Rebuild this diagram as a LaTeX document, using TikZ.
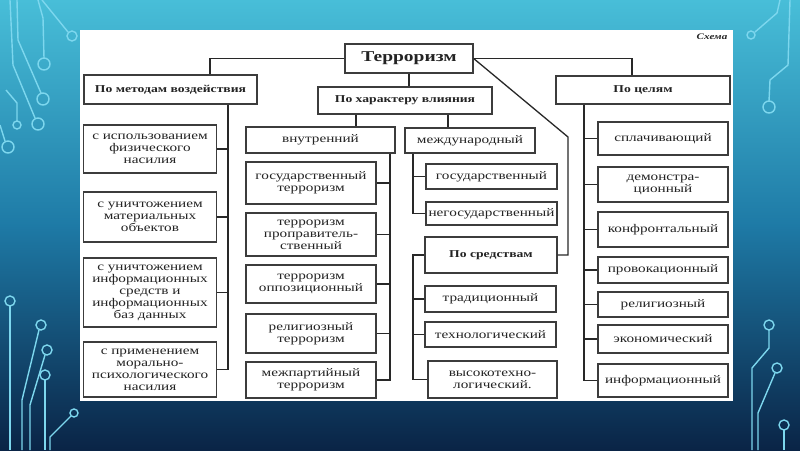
\documentclass[tikz,border=0pt]{standalone}
\usepackage{fontspec}
\setmainfont{Liberation Serif}[FakeStretch=1.3]
\definecolor{bgTop}{RGB}{72,190,216}
\definecolor{bgMid}{RGB}{30,122,166}
\definecolor{bgBot}{RGB}{10,36,70}
\definecolor{circc}{RGB}{125,215,238}
\definecolor{boxc}{RGB}{60,60,60}
\definecolor{linec}{RGB}{40,40,40}
\definecolor{txtc}{RGB}{35,35,35}
\newcommand\fsn{\fontsize{11.7}{12}\selectfont}
\newcommand\fsb{\fontsize{10.5}{12}\selectfont\bfseries}
\newcommand\fst{\fontsize{15}{16}\selectfont\bfseries}
\begin{document}
\begin{tikzpicture}[x=1pt,y=-1pt,
  box/.style={draw=boxc, line width=1.3pt, fill=white, text=txtc, align=center, inner sep=1pt, font=\fsn},
  hbox/.style={box, font=\fsb},
  conn/.style={draw=linec, line width=1.3pt},
  circ/.style={draw=circc, line width=1.4pt}]
\useasboundingbox (0,0) rectangle (800,450);
% background
\shade[top color=bgTop, bottom color=bgMid] (0,0) rectangle (800,226);
\shade[top color=bgMid, bottom color=bgBot] (0,225) rectangle (800,450);
% circuit decorations
\draw[circ] (38,0) -- (43,18) -- (44,58);
\draw[circ] (44,64) circle (6);
\draw[circ] (42,0) -- (68,32);
\draw[circ] (72,36) circle (5);
\draw[circ] (17,0) -- (18,40) -- (41,93);
\draw[circ] (43,99) circle (6);
\draw[circ] (10,0) -- (13,65) -- (35,118);
\draw[circ] (38,124) circle (6);
\draw[circ] (6,90) -- (17,103) -- (17,121);
\draw[circ] (17,125) circle (4);
\draw[circ] (0,125) -- (5,141);
\draw[circ] (8,147) circle (6);
\draw[circ] (10,306) -- (10,450);
\draw[circ] (10,301) circle (5);
\draw[circ] (39,330) -- (22,400) -- (22,450);
\draw[circ] (41,325) circle (5);
\draw[circ] (45,355) -- (30,405) -- (30,450);
\draw[circ] (47,350) circle (5);
\draw[circ] (45,380) -- (45,450);
\draw[circ] (45,375) circle (5);
\draw[circ] (71,416) -- (50,437) -- (50,450);
\draw[circ] (74,413) circle (4);
\draw[circ] (780,0) -- (777,13) -- (755,32);
\draw[circ] (751,35) circle (4);
\draw[circ] (790,0) -- (788,65) -- (770,80) -- (769,101);
\draw[circ] (769,107) circle (6);
\draw[circ] (769,330) -- (769,348) -- (752,368) -- (752,450);
\draw[circ] (769,325) circle (5);
\draw[circ] (775,373) -- (758,413) -- (758,450);
\draw[circ] (777,368) circle (5);
\draw[circ] (784,430) -- (784,450);
\draw[circ] (784,425) circle (5);
% panel
\fill[white] (80,30) rectangle (733,401);
\node[font=\fontsize{8.5}{9}\selectfont\itshape\bfseries, text=txtc] (schema) at (712,37) {Схема};
% nodes
\node[box, font=\fst, minimum width=128, minimum height=29] (ter) at (409,58.5) {Терроризм};
\node[hbox, minimum width=173, minimum height=29] (met) at (170.5,89.5) {По методам воздействия};
\node[hbox, minimum width=174, minimum height=27] (har) at (405,100.5) {По характеру влияния};
\node[hbox, minimum width=174, minimum height=28] (cel) at (643,90) {По целям};
\node[box, minimum width=133, minimum height=48] (L1) at (150,149) {с использованием\\физического\\насилия};
\node[box, minimum width=133, minimum height=50] (L2) at (150,217) {с уничтожением\\материальных\\объектов};
\node[box, minimum width=133, minimum height=69] (L3) at (150,292.5) {с уничтожением\\информационных\\средств и\\информационных\\баз данных};
\node[box, minimum width=133, minimum height=55] (L4) at (150,369.5) {с применением\\морально-\\психологического\\насилия};
\node[box, minimum width=149, minimum height=26] (vn) at (320.5,140) {внутренний};
\node[box, minimum width=130, minimum height=25] (md) at (470,140.5) {международный};
\node[box, minimum width=130, minimum height=42] (V1) at (311,183) {государственный\\терроризм};
\node[box, minimum width=130, minimum height=43] (V2) at (311,234.5) {терроризм\\проправитель-\\ственный};
\node[box, minimum width=130, minimum height=38] (V3) at (311,284) {терроризм\\оппозиционный};
\node[box, minimum width=130, minimum height=39] (V4) at (311,333.5) {религиозный\\терроризм};
\node[box, minimum width=130, minimum height=36] (V5) at (311,380) {межпартийный\\терроризм};
\node[box, minimum width=131, minimum height=25] (M1) at (491.5,176.5) {государственный};
\node[box, minimum width=131, minimum height=23] (M2) at (491.5,213.5) {негосударственный};
\node[hbox, minimum width=132, minimum height=36] (sr) at (491,255) {По средствам};
\node[box, minimum width=131, minimum height=26] (S1) at (490.5,299) {традиционный};
\node[box, minimum width=131, minimum height=25] (S2) at (490.5,334.5) {технологический};
\node[box, minimum width=129, minimum height=37] (S3) at (492.5,379.5) {высокотехно-\\логический.};
\node[box, minimum width=130, minimum height=33] (R1) at (663,138.5) {сплачивающий};
\node[box, minimum width=130, minimum height=35] (R2) at (663,184.5) {демонстра-\\ционный};
\node[box, minimum width=130, minimum height=35] (R3) at (663,229.5) {конфронтальный};
\node[box, minimum width=130, minimum height=26] (R4) at (663,270) {провокационный};
\node[box, minimum width=130, minimum height=25] (R5) at (663,304.5) {религиозный};
\node[box, minimum width=130, minimum height=28] (R6) at (663,339) {экономический};
\node[box, minimum width=130, minimum height=33] (R7) at (663,380.5) {информационный};
% helper coordinates for vertical buses
\coordinate (xmet) at (228,0);
\coordinate (xml) at (210,0);
\coordinate (xcel) at (632,0);
\coordinate (xvn) at (356,0);
\coordinate (xmd) at (448,0);
\coordinate (xv) at (390,0);
\coordinate (xm) at (413,0);
\coordinate (xr) at (584,0);
\coordinate (bend) at (568,137);
% connectors
\draw[conn] (ter.west) -| (met.north -| xml);
\draw[conn] (ter.south) -- (ter.south |- har.north);
\draw[conn] (ter.east) -| (cel.north -| xcel);
\draw[conn] (ter.east) -- (bend) |- (sr.east);
\draw[conn] (har.south -| xvn) -- (vn.north -| xvn);
\draw[conn] (har.south -| xmd) -- (md.north -| xmd);
\draw[conn] (met.south -| xmet) |- (L4.east);
\foreach \n in {L1,L2,L3} \draw[conn] (\n.east) -- (\n.east -| xmet);
\draw[conn] (vn.south -| xv) |- (V5.east);
\foreach \n in {V1,V2,V3,V4} \draw[conn] (\n.east) -- (\n.east -| xv);
\draw[conn] (md.south -| xm) |- (M2.west);
\draw[conn] (M1.west) -- (M1.west -| xm);
\draw[conn] (sr.west) -| (xm |- S3.west) -- (S3.west);
\foreach \n in {S1,S2} \draw[conn] (\n.west) -- (\n.west -| xm);
\draw[conn] (cel.south -| xr) |- (R7.west);
\foreach \n in {R1,R2,R3,R4,R5,R6} \draw[conn] (\n.west) -- (\n.west -| xr);
\end{tikzpicture}
\end{document}
